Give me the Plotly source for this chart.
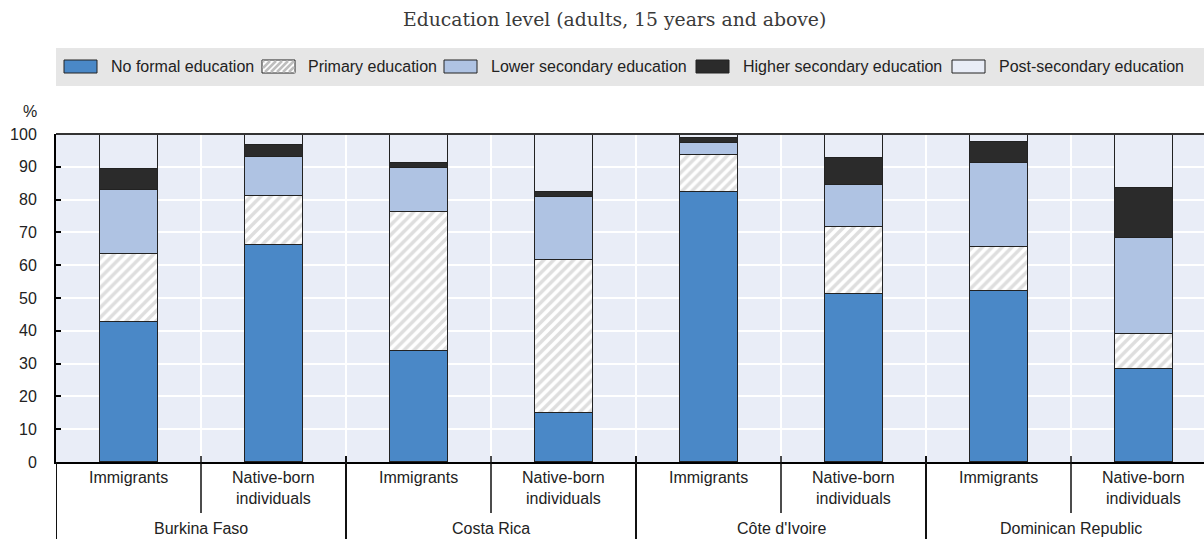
import plotly.graph_objects as go

# Education attainment shares (%) of adults aged 15+, by country and birth status
countries = ["Burkina Faso", "Costa Rica", "Côte d'Ivoire", "Dominican Republic"]
groups = ["Immigrants", "Native-born<br>individuals"]

levels = [
    "No formal education",
    "Primary education",
    "Lower secondary education",
    "Higher secondary education",
    "Post-secondary education",
]

# order: BF imm, BF nat, CR imm, CR nat, CI imm, CI nat, DR imm, DR nat
no_formal = [42.8, 66.2, 33.8, 14.9, 82.4, 51.2, 52.1, 28.3]
primary = [20.7, 15.0, 42.4, 46.7, 11.3, 20.4, 13.4, 10.6]
lower_secondary = [19.4, 11.7, 13.3, 19.2, 3.7, 12.9, 25.6, 29.4]
higher_secondary = [6.3, 3.8, 1.8, 1.6, 1.3, 8.3, 6.5, 15.3]
post_secondary = [10.8, 3.3, 8.7, 17.6, 1.3, 7.2, 2.4, 16.4]

series = [no_formal, primary, lower_secondary, higher_secondary, post_secondary]

BG = "#E9EDF7"
fills = ["#4A88C7", "#FFFFFF", "#AFC3E3", "#2B2B2B", "#E9EDF7"]
OUTLINE = "#222222"
HATCH = "#BEBEBE"

W, H = 1204, 539
L, T, B = 56, 134, 462  # plot area edges in pixels
PW, PH = W - L, B - T
SLOT = 145.0
x_hi = -0.5 + PW / SLOT

n = len(countries) * len(groups)
xpos = list(range(n))

fig = go.Figure()
for name, vals, col in zip(levels, series, fills):
    marker = dict(color=col, line=dict(color=OUTLINE, width=1.2))
    if name == "Primary education":
        marker["pattern"] = dict(shape="/", fgcolor=HATCH, bgcolor="#FFFFFF",
                                 size=7, solidity=0.5)
    fig.add_trace(go.Bar(x=xpos, y=vals, name=name, width=0.4, marker=marker,
                         showlegend=False))


def px(xp):
    return (xp - L) / PW


def py(yp):
    return (B - yp) / PH


shapes = []
annotations = []

# frame: top border line
shapes.append(dict(type="line", xref="paper", yref="paper", x0=0, x1=1, y0=1, y1=1,
                   line=dict(color="#333333", width=2)))

# category separators below the axis
for i in range(len(countries)):
    xg = -0.5 + 2 * i
    shapes.append(dict(type="line", xref="x", yref="paper", x0=xg, x1=xg,
                       y0=py(456) if i else 0, y1=py(539),
                       line=dict(color="#111111", width=2)))
    xs = 0.5 + 2 * i
    shapes.append(dict(type="line", xref="x", yref="paper", x0=xs, x1=xs,
                       y0=py(456), y1=py(513), line=dict(color="#111111", width=1.5)))

# sub-category and country labels
for i, c in enumerate(countries):
    for j, g in enumerate(groups):
        annotations.append(dict(x=2 * i + j, y=0, xref="x", yref="paper", text=g,
                                showarrow=False, yanchor="top", yshift=-5,
                                font=dict(size=16, color="#222222")))
    annotations.append(dict(x=2 * i + 0.5, y=0, xref="x", yref="paper", text=c,
                            showarrow=False, yanchor="top", yshift=-56,
                            font=dict(size=16, color="#222222")))

# legend band
shapes.append(dict(type="rect", xref="paper", yref="paper", x0=0, x1=1,
                   y0=py(86), y1=py(48), fillcolor="#E6E6E6", line=dict(width=0),
                   layer="below"))

swatch_x = [64, 262, 444, 696, 952]
text_x = [109, 306, 489, 741, 997]
sy0, sy1 = 60, 73
for k, (name, col) in enumerate(zip(levels, fills)):
    x0, x1 = swatch_x[k], swatch_x[k] + 33
    shapes.append(dict(type="rect", xref="paper", yref="paper", x0=px(x0), x1=px(x1),
                       y0=py(sy1), y1=py(sy0), fillcolor=col,
                       line=dict(color=OUTLINE, width=1)))
    if name == "Primary education":
        hgt = sy1 - sy0
        for c in range(x0 - hgt + 3, x1, 6):
            # stripe from lower-left to upper-right, clipped to the swatch
            ax, ay = c, sy1
            bx, by = c + hgt, sy0
            if ax < x0:
                ay -= (x0 - ax)
                ax = x0
            if bx > x1:
                by += (bx - x1)
                bx = x1
            if bx - ax < 1:
                continue
            shapes.append(dict(type="line", xref="paper", yref="paper",
                               x0=px(ax + 1), y0=py(ay - 1), x1=px(bx - 1), y1=py(by + 1),
                               line=dict(color=HATCH, width=2.5)))
    annotations.append(dict(x=px(text_x[k]), y=py(67), xref="paper", yref="paper",
                            text=name, showarrow=False, xanchor="left", yanchor="middle",
                            font=dict(size=16, color="#222222")))

# title and unit label
annotations.append(dict(x=px(614), y=py(20), xref="paper", yref="paper",
                        text="Education level (adults, 15 years and above)",
                        showarrow=False, xanchor="center", yanchor="middle",
                        font=dict(family="DejaVu Serif", size=18.8, color="#3A3A3A")))
annotations.append(dict(x=px(30), y=py(111), xref="paper", yref="paper", text="%",
                        showarrow=False, xanchor="center", yanchor="middle",
                        font=dict(size=16, color="#222222")))

fig.update_layout(
    width=W, height=H,
    margin=dict(l=L, r=0, t=T, b=H - B, pad=0),
    barmode="stack",
    plot_bgcolor=BG,
    paper_bgcolor="#FFFFFF",
    font=dict(family="Liberation Sans, Arial, sans-serif", size=16, color="#222222"),
    shapes=shapes,
    annotations=annotations,
    showlegend=False,
    xaxis=dict(range=[-0.5, x_hi], tickvals=[k + 0.5 for k in range(n - 1)],
               showticklabels=False, showgrid=True, gridcolor="#FFFFFF", gridwidth=2,
               zeroline=False, showline=True, linecolor="#000000", linewidth=2,
               ticks=""),
    yaxis=dict(range=[0, 100], tickvals=list(range(0, 101, 10)), showgrid=True,
               gridcolor="#FFFFFF", gridwidth=2, zeroline=False, showline=True,
               linecolor="#000000", linewidth=2, ticks="inside", ticklen=5,
               tickcolor="#000000", tickwidth=1.5, ticklabelstandoff=14,
               tickfont=dict(size=16, color="#222222")),
    bargap=0,
)

fig.write_html("out.html")
